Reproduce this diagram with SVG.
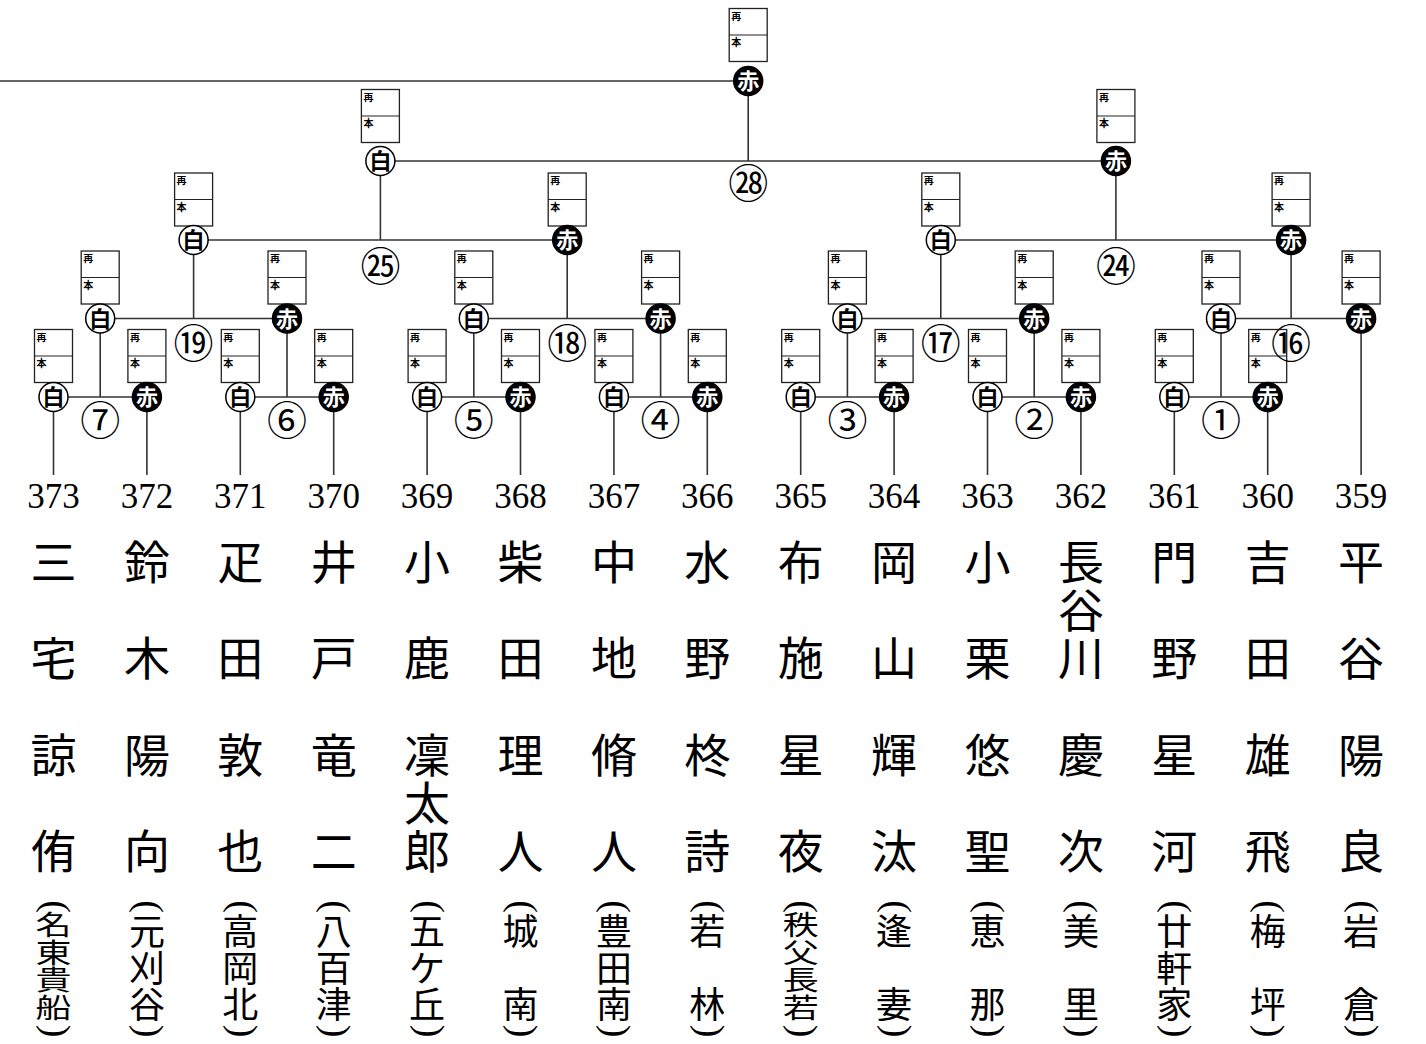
<svg xmlns="http://www.w3.org/2000/svg" width="1426" height="1044" viewBox="0 0 1426 1044">
<style>
.ln{stroke:#333;stroke-width:1.6;fill:none}
.bx{fill:#fff;stroke:#222;stroke-width:1.3}
.dv{stroke:#222;stroke-width:1.2}
.bt{font-family:"Noto Sans CJK JP",sans-serif;font-size:10px;font-weight:bold;fill:#000}
.cw{fill:#fff;stroke:#000;stroke-width:1.5}
.cb{fill:#000;stroke:#000;stroke-width:1.5}
.tw{font-family:"Noto Sans CJK JP",sans-serif;font-size:22px;font-weight:bold;text-anchor:middle;fill:#000}
.tb{font-family:"Noto Sans CJK JP",sans-serif;font-size:22px;font-weight:bold;text-anchor:middle;fill:#fff}
.mn{font-family:"Noto Sans CJK JP",sans-serif;font-size:40px;text-anchor:middle;fill:#000}
.num{font-family:"Liberation Serif","Noto Sans CJK JP",serif;font-size:35px;text-anchor:middle;fill:#000}
.nm{font-family:"Noto Sans CJK JP",sans-serif;font-size:46px;text-anchor:middle;fill:#000}
.sc{font-family:"Noto Sans CJK JP",sans-serif;font-size:36px;text-anchor:middle;fill:#000}
.pr{font-family:"Liberation Serif",serif;font-size:38px;text-anchor:middle;fill:#000}
</style>
<rect x="0" y="0" width="1426" height="1044" fill="#fff"/>
<g id="connectors" class="ln">
<line x1="0" y1="81" x2="748.2" y2="81"/>
<line x1="748.2" y1="81" x2="748.2" y2="161"/>
<line x1="380.4" y1="161" x2="1115.9" y2="161"/>
<line x1="380.4" y1="161" x2="380.4" y2="240"/>
<line x1="1115.9" y1="161" x2="1115.9" y2="240"/>
<line x1="193.6" y1="240" x2="567.2" y2="240"/>
<line x1="940.8" y1="240" x2="1291.1" y2="240"/>
<line x1="193.6" y1="240" x2="193.6" y2="318.5"/>
<line x1="567.2" y1="240" x2="567.2" y2="318.5"/>
<line x1="940.8" y1="240" x2="940.8" y2="318.5"/>
<line x1="1291.1" y1="240" x2="1291.1" y2="318.5"/>
<line x1="100.2" y1="318.5" x2="287" y2="318.5"/>
<line x1="473.8" y1="318.5" x2="660.6" y2="318.5"/>
<line x1="847.4" y1="318.5" x2="1034.2" y2="318.5"/>
<line x1="1221" y1="318.5" x2="1361.1" y2="318.5"/>
<line x1="100.2" y1="318.5" x2="100.2" y2="397"/>
<line x1="287" y1="318.5" x2="287" y2="397"/>
<line x1="473.8" y1="318.5" x2="473.8" y2="397"/>
<line x1="660.6" y1="318.5" x2="660.6" y2="397"/>
<line x1="847.4" y1="318.5" x2="847.4" y2="397"/>
<line x1="1034.2" y1="318.5" x2="1034.2" y2="397"/>
<line x1="1221" y1="318.5" x2="1221" y2="397"/>
<line x1="53.5" y1="397" x2="146.9" y2="397"/>
<line x1="240.3" y1="397" x2="333.7" y2="397"/>
<line x1="427.1" y1="397" x2="520.5" y2="397"/>
<line x1="613.9" y1="397" x2="707.3" y2="397"/>
<line x1="800.7" y1="397" x2="894.1" y2="397"/>
<line x1="987.5" y1="397" x2="1080.9" y2="397"/>
<line x1="1174.3" y1="397" x2="1267.7" y2="397"/>
<line x1="53.5" y1="397" x2="53.5" y2="475"/>
<line x1="146.9" y1="397" x2="146.9" y2="475"/>
<line x1="240.3" y1="397" x2="240.3" y2="475"/>
<line x1="333.7" y1="397" x2="333.7" y2="475"/>
<line x1="427.1" y1="397" x2="427.1" y2="475"/>
<line x1="520.5" y1="397" x2="520.5" y2="475"/>
<line x1="613.9" y1="397" x2="613.9" y2="475"/>
<line x1="707.3" y1="397" x2="707.3" y2="475"/>
<line x1="800.7" y1="397" x2="800.7" y2="475"/>
<line x1="894.1" y1="397" x2="894.1" y2="475"/>
<line x1="987.5" y1="397" x2="987.5" y2="475"/>
<line x1="1080.9" y1="397" x2="1080.9" y2="475"/>
<line x1="1174.3" y1="397" x2="1174.3" y2="475"/>
<line x1="1267.7" y1="397" x2="1267.7" y2="475"/>
<line x1="1361.1" y1="318.5" x2="1361.1" y2="475"/>
</g>

<g id="n373"><rect class="bx" x="34.5" y="329.5" width="38" height="53"/><line class="dv" x1="34.5" y1="356" x2="72.5" y2="356"/><text class="bt" x="36.5" y="340.5">再</text><text class="bt" x="36.5" y="367">本</text><circle class="cw" cx="53.5" cy="397" r="14.5"/><text class="tw" x="53.5" y="405">白</text></g>
<g id="n372"><rect class="bx" x="127.9" y="329.5" width="38" height="53"/><line class="dv" x1="127.9" y1="356" x2="165.9" y2="356"/><text class="bt" x="129.9" y="340.5">再</text><text class="bt" x="129.9" y="367">本</text><circle class="cb" cx="146.9" cy="397" r="14.5"/><text class="tb" x="146.9" y="405">赤</text></g>
<g id="n371"><rect class="bx" x="221.3" y="329.5" width="38" height="53"/><line class="dv" x1="221.3" y1="356" x2="259.3" y2="356"/><text class="bt" x="223.3" y="340.5">再</text><text class="bt" x="223.3" y="367">本</text><circle class="cw" cx="240.3" cy="397" r="14.5"/><text class="tw" x="240.3" y="405">白</text></g>
<g id="n370"><rect class="bx" x="314.7" y="329.5" width="38" height="53"/><line class="dv" x1="314.7" y1="356" x2="352.7" y2="356"/><text class="bt" x="316.7" y="340.5">再</text><text class="bt" x="316.7" y="367">本</text><circle class="cb" cx="333.7" cy="397" r="14.5"/><text class="tb" x="333.7" y="405">赤</text></g>
<g id="n369"><rect class="bx" x="408.1" y="329.5" width="38" height="53"/><line class="dv" x1="408.1" y1="356" x2="446.1" y2="356"/><text class="bt" x="410.1" y="340.5">再</text><text class="bt" x="410.1" y="367">本</text><circle class="cw" cx="427.1" cy="397" r="14.5"/><text class="tw" x="427.1" y="405">白</text></g>
<g id="n368"><rect class="bx" x="501.5" y="329.5" width="38" height="53"/><line class="dv" x1="501.5" y1="356" x2="539.5" y2="356"/><text class="bt" x="503.5" y="340.5">再</text><text class="bt" x="503.5" y="367">本</text><circle class="cb" cx="520.5" cy="397" r="14.5"/><text class="tb" x="520.5" y="405">赤</text></g>
<g id="n367"><rect class="bx" x="594.9" y="329.5" width="38" height="53"/><line class="dv" x1="594.9" y1="356" x2="632.9" y2="356"/><text class="bt" x="596.9" y="340.5">再</text><text class="bt" x="596.9" y="367">本</text><circle class="cw" cx="613.9" cy="397" r="14.5"/><text class="tw" x="613.9" y="405">白</text></g>
<g id="n366"><rect class="bx" x="688.3" y="329.5" width="38" height="53"/><line class="dv" x1="688.3" y1="356" x2="726.3" y2="356"/><text class="bt" x="690.3" y="340.5">再</text><text class="bt" x="690.3" y="367">本</text><circle class="cb" cx="707.3" cy="397" r="14.5"/><text class="tb" x="707.3" y="405">赤</text></g>
<g id="n365"><rect class="bx" x="781.7" y="329.5" width="38" height="53"/><line class="dv" x1="781.7" y1="356" x2="819.7" y2="356"/><text class="bt" x="783.7" y="340.5">再</text><text class="bt" x="783.7" y="367">本</text><circle class="cw" cx="800.7" cy="397" r="14.5"/><text class="tw" x="800.7" y="405">白</text></g>
<g id="n364"><rect class="bx" x="875.1" y="329.5" width="38" height="53"/><line class="dv" x1="875.1" y1="356" x2="913.1" y2="356"/><text class="bt" x="877.1" y="340.5">再</text><text class="bt" x="877.1" y="367">本</text><circle class="cb" cx="894.1" cy="397" r="14.5"/><text class="tb" x="894.1" y="405">赤</text></g>
<g id="n363"><rect class="bx" x="968.5" y="329.5" width="38" height="53"/><line class="dv" x1="968.5" y1="356" x2="1006.5" y2="356"/><text class="bt" x="970.5" y="340.5">再</text><text class="bt" x="970.5" y="367">本</text><circle class="cw" cx="987.5" cy="397" r="14.5"/><text class="tw" x="987.5" y="405">白</text></g>
<g id="n362"><rect class="bx" x="1061.9" y="329.5" width="38" height="53"/><line class="dv" x1="1061.9" y1="356" x2="1099.9" y2="356"/><text class="bt" x="1063.9" y="340.5">再</text><text class="bt" x="1063.9" y="367">本</text><circle class="cb" cx="1080.9" cy="397" r="14.5"/><text class="tb" x="1080.9" y="405">赤</text></g>
<g id="n361"><rect class="bx" x="1155.3" y="329.5" width="38" height="53"/><line class="dv" x1="1155.3" y1="356" x2="1193.3" y2="356"/><text class="bt" x="1157.3" y="340.5">再</text><text class="bt" x="1157.3" y="367">本</text><circle class="cw" cx="1174.3" cy="397" r="14.5"/><text class="tw" x="1174.3" y="405">白</text></g>
<g id="n360"><rect class="bx" x="1248.7" y="329.5" width="38" height="53"/><line class="dv" x1="1248.7" y1="356" x2="1286.7" y2="356"/><text class="bt" x="1250.7" y="340.5">再</text><text class="bt" x="1250.7" y="367">本</text><circle class="cb" cx="1267.7" cy="397" r="14.5"/><text class="tb" x="1267.7" y="405">赤</text></g>

<g id="w7"><rect class="bx" x="81.2" y="251" width="38" height="53"/><line class="dv" x1="81.2" y1="277.5" x2="119.2" y2="277.5"/><text class="bt" x="83.2" y="262">再</text><text class="bt" x="83.2" y="288.5">本</text><circle class="cw" cx="100.2" cy="318.5" r="14.5"/><text class="tw" x="100.2" y="326.5">白</text></g>
<g id="w6"><rect class="bx" x="268" y="251" width="38" height="53"/><line class="dv" x1="268" y1="277.5" x2="306" y2="277.5"/><text class="bt" x="270" y="262">再</text><text class="bt" x="270" y="288.5">本</text><circle class="cb" cx="287" cy="318.5" r="14.5"/><text class="tb" x="287" y="326.5">赤</text></g>
<g id="w5"><rect class="bx" x="454.8" y="251" width="38" height="53"/><line class="dv" x1="454.8" y1="277.5" x2="492.8" y2="277.5"/><text class="bt" x="456.8" y="262">再</text><text class="bt" x="456.8" y="288.5">本</text><circle class="cw" cx="473.8" cy="318.5" r="14.5"/><text class="tw" x="473.8" y="326.5">白</text></g>
<g id="w4"><rect class="bx" x="641.6" y="251" width="38" height="53"/><line class="dv" x1="641.6" y1="277.5" x2="679.6" y2="277.5"/><text class="bt" x="643.6" y="262">再</text><text class="bt" x="643.6" y="288.5">本</text><circle class="cb" cx="660.6" cy="318.5" r="14.5"/><text class="tb" x="660.6" y="326.5">赤</text></g>
<g id="w3"><rect class="bx" x="828.4" y="251" width="38" height="53"/><line class="dv" x1="828.4" y1="277.5" x2="866.4" y2="277.5"/><text class="bt" x="830.4" y="262">再</text><text class="bt" x="830.4" y="288.5">本</text><circle class="cw" cx="847.4" cy="318.5" r="14.5"/><text class="tw" x="847.4" y="326.5">白</text></g>
<g id="w2"><rect class="bx" x="1015.2" y="251" width="38" height="53"/><line class="dv" x1="1015.2" y1="277.5" x2="1053.2" y2="277.5"/><text class="bt" x="1017.2" y="262">再</text><text class="bt" x="1017.2" y="288.5">本</text><circle class="cb" cx="1034.2" cy="318.5" r="14.5"/><text class="tb" x="1034.2" y="326.5">赤</text></g>
<g id="w1"><rect class="bx" x="1202" y="251" width="38" height="53"/><line class="dv" x1="1202" y1="277.5" x2="1240" y2="277.5"/><text class="bt" x="1204" y="262">再</text><text class="bt" x="1204" y="288.5">本</text><circle class="cw" cx="1221" cy="318.5" r="14.5"/><text class="tw" x="1221" y="326.5">白</text></g>
<g id="n359"><rect class="bx" x="1342.1" y="251" width="38" height="53"/><line class="dv" x1="1342.1" y1="277.5" x2="1380.1" y2="277.5"/><text class="bt" x="1344.1" y="262">再</text><text class="bt" x="1344.1" y="288.5">本</text><circle class="cb" cx="1361.1" cy="318.5" r="14.5"/><text class="tb" x="1361.1" y="326.5">赤</text></g>

<g id="w19"><rect class="bx" x="174.6" y="173" width="38" height="53"/><line class="dv" x1="174.6" y1="199.5" x2="212.6" y2="199.5"/><text class="bt" x="176.6" y="184">再</text><text class="bt" x="176.6" y="210.5">本</text><circle class="cw" cx="193.6" cy="240" r="14.5"/><text class="tw" x="193.6" y="248">白</text></g>
<g id="w18"><rect class="bx" x="548.2" y="173" width="38" height="53"/><line class="dv" x1="548.2" y1="199.5" x2="586.2" y2="199.5"/><text class="bt" x="550.2" y="184">再</text><text class="bt" x="550.2" y="210.5">本</text><circle class="cb" cx="567.2" cy="240" r="14.5"/><text class="tb" x="567.2" y="248">赤</text></g>
<g id="w17"><rect class="bx" x="921.8" y="173" width="38" height="53"/><line class="dv" x1="921.8" y1="199.5" x2="959.8" y2="199.5"/><text class="bt" x="923.8" y="184">再</text><text class="bt" x="923.8" y="210.5">本</text><circle class="cw" cx="940.8" cy="240" r="14.5"/><text class="tw" x="940.8" y="248">白</text></g>
<g id="w16"><rect class="bx" x="1272.1" y="173" width="38" height="53"/><line class="dv" x1="1272.1" y1="199.5" x2="1310.1" y2="199.5"/><text class="bt" x="1274.1" y="184">再</text><text class="bt" x="1274.1" y="210.5">本</text><circle class="cb" cx="1291.1" cy="240" r="14.5"/><text class="tb" x="1291.1" y="248">赤</text></g>

<g id="w25"><rect class="bx" x="361.4" y="89.5" width="38" height="53"/><line class="dv" x1="361.4" y1="116" x2="399.4" y2="116"/><text class="bt" x="363.4" y="100.5">再</text><text class="bt" x="363.4" y="127">本</text><circle class="cw" cx="380.4" cy="161" r="14.5"/><text class="tw" x="380.4" y="169">白</text></g>
<g id="w24"><rect class="bx" x="1096.9" y="89.5" width="38" height="53"/><line class="dv" x1="1096.9" y1="116" x2="1134.9" y2="116"/><text class="bt" x="1098.9" y="100.5">再</text><text class="bt" x="1098.9" y="127">本</text><circle class="cb" cx="1115.9" cy="161" r="14.5"/><text class="tb" x="1115.9" y="169">赤</text></g>

<g id="w28"><rect class="bx" x="729.2" y="8.5" width="38" height="53"/><line class="dv" x1="729.2" y1="35" x2="767.2" y2="35"/><text class="bt" x="731.2" y="19.5">再</text><text class="bt" x="731.2" y="46">本</text><circle class="cb" cx="748.2" cy="81" r="14.5"/><text class="tb" x="748.2" y="89">赤</text></g>

<g id="match-numbers" class="mn">
<text x="100.2" y="434.8">⑦</text>
<text x="287" y="434.8">⑥</text>
<text x="473.8" y="434.8">⑤</text>
<text x="660.6" y="434.8">④</text>
<text x="847.4" y="434.8">③</text>
<text x="1034.2" y="434.8">②</text>
<text x="1221" y="434.8">①</text>
<text x="193.6" y="357.8">⑲</text>
<text x="567.2" y="357.8">⑱</text>
<text x="940.8" y="357.8">⑰</text>
<text x="1291.1" y="357.8">⑯</text>
<text x="380.4" y="280.8">㉕</text>
<text x="1115.9" y="280.8">㉔</text>
<text x="748.2" y="197.8">㉘</text>
</g>

<g id="entry-numbers" class="num">
<text x="53.5" y="508">373</text>
<text x="146.9" y="508">372</text>
<text x="240.3" y="508">371</text>
<text x="333.7" y="508">370</text>
<text x="427.1" y="508">369</text>
<text x="520.5" y="508">368</text>
<text x="613.9" y="508">367</text>
<text x="707.3" y="508">366</text>
<text x="800.7" y="508">365</text>
<text x="894.1" y="508">364</text>
<text x="987.5" y="508">363</text>
<text x="1080.9" y="508">362</text>
<text x="1174.3" y="508">361</text>
<text x="1267.7" y="508">360</text>
<text x="1361.1" y="508">359</text>
</g>

<g id="names" class="nm">
<text x="53.5" y="578.5">三</text><text x="53.5" y="675.1">宅</text><text x="53.5" y="771.7">諒</text><text x="53.5" y="868.3">侑</text>
<text x="146.9" y="578.5">鈴</text><text x="146.9" y="675.1">木</text><text x="146.9" y="771.7">陽</text><text x="146.9" y="868.3">向</text>
<text x="240.3" y="578.5">疋</text><text x="240.3" y="675.1">田</text><text x="240.3" y="771.7">敦</text><text x="240.3" y="868.3">也</text>
<text x="333.7" y="578.5">井</text><text x="333.7" y="675.1">戸</text><text x="333.7" y="771.7">竜</text><text x="333.7" y="868.3">二</text>
<text x="427.1" y="578.5">小</text><text x="427.1" y="675.1">鹿</text><text x="427.1" y="771.7">凜</text><text x="427.1" y="820">太</text><text x="427.1" y="868.3">郎</text>
<text x="520.5" y="578.5">柴</text><text x="520.5" y="675.1">田</text><text x="520.5" y="771.7">理</text><text x="520.5" y="868.3">人</text>
<text x="613.9" y="578.5">中</text><text x="613.9" y="675.1">地</text><text x="613.9" y="771.7">脩</text><text x="613.9" y="868.3">人</text>
<text x="707.3" y="578.5">水</text><text x="707.3" y="675.1">野</text><text x="707.3" y="771.7">柊</text><text x="707.3" y="868.3">詩</text>
<text x="800.7" y="578.5">布</text><text x="800.7" y="675.1">施</text><text x="800.7" y="771.7">星</text><text x="800.7" y="868.3">夜</text>
<text x="894.1" y="578.5">岡</text><text x="894.1" y="675.1">山</text><text x="894.1" y="771.7">輝</text><text x="894.1" y="868.3">汰</text>
<text x="987.5" y="578.5">小</text><text x="987.5" y="675.1">栗</text><text x="987.5" y="771.7">悠</text><text x="987.5" y="868.3">聖</text>
<text x="1080.9" y="578.5">長</text><text x="1080.9" y="626.8">谷</text><text x="1080.9" y="675.1">川</text><text x="1080.9" y="771.7">慶</text><text x="1080.9" y="868.3">次</text>
<text x="1174.3" y="578.5">門</text><text x="1174.3" y="675.1">野</text><text x="1174.3" y="771.7">星</text><text x="1174.3" y="868.3">河</text>
<text x="1267.7" y="578.5">吉</text><text x="1267.7" y="675.1">田</text><text x="1267.7" y="771.7">雄</text><text x="1267.7" y="868.3">飛</text>
<text x="1361.1" y="578.5">平</text><text x="1361.1" y="675.1">谷</text><text x="1361.1" y="771.7">陽</text><text x="1361.1" y="868.3">良</text>
</g>

<g id="schools" class="sc">
<text class="pr" transform="translate(44,906.5) rotate(90)">(</text><text transform="translate(53.5,925) scale(1,0.76)" y="13.3">名</text><text transform="translate(53.5,952.5) scale(1,0.76)" y="13.3">東</text><text transform="translate(53.5,980) scale(1,0.76)" y="13.3">貴</text><text transform="translate(53.5,1007.5) scale(1,0.76)" y="13.3">船</text><text class="pr" transform="translate(44,1031) rotate(90)">)</text>
<text class="pr" transform="translate(137.4,906.5) rotate(90)">(</text><text x="146.9" y="945.3">元</text><text x="146.9" y="981.8">刈</text><text x="146.9" y="1018.3">谷</text><text class="pr" transform="translate(137.4,1031) rotate(90)">)</text>
<text class="pr" transform="translate(230.8,906.5) rotate(90)">(</text><text x="240.3" y="945.3">高</text><text x="240.3" y="981.8">岡</text><text x="240.3" y="1018.3">北</text><text class="pr" transform="translate(230.8,1031) rotate(90)">)</text>
<text class="pr" transform="translate(324.2,906.5) rotate(90)">(</text><text x="333.7" y="945.3">八</text><text x="333.7" y="981.8">百</text><text x="333.7" y="1018.3">津</text><text class="pr" transform="translate(324.2,1031) rotate(90)">)</text>
<text class="pr" transform="translate(417.6,906.5) rotate(90)">(</text><text x="427.1" y="945.3">五</text><text x="427.1" y="981.8">ケ</text><text x="427.1" y="1018.3">丘</text><text class="pr" transform="translate(417.6,1031) rotate(90)">)</text>
<text class="pr" transform="translate(511,906.5) rotate(90)">(</text><text x="520.5" y="945.3">城</text><text x="520.5" y="1018.3">南</text><text class="pr" transform="translate(511,1031) rotate(90)">)</text>
<text class="pr" transform="translate(604.4,906.5) rotate(90)">(</text><text x="613.9" y="945.3">豊</text><text x="613.9" y="981.8">田</text><text x="613.9" y="1018.3">南</text><text class="pr" transform="translate(604.4,1031) rotate(90)">)</text>
<text class="pr" transform="translate(697.8,906.5) rotate(90)">(</text><text x="707.3" y="945.3">若</text><text x="707.3" y="1018.3">林</text><text class="pr" transform="translate(697.8,1031) rotate(90)">)</text>
<text class="pr" transform="translate(791.2,906.5) rotate(90)">(</text><text transform="translate(800.7,925) scale(1,0.76)" y="13.3">秩</text><text transform="translate(800.7,952.5) scale(1,0.76)" y="13.3">父</text><text transform="translate(800.7,980) scale(1,0.76)" y="13.3">長</text><text transform="translate(800.7,1007.5) scale(1,0.76)" y="13.3">若</text><text class="pr" transform="translate(791.2,1031) rotate(90)">)</text>
<text class="pr" transform="translate(884.6,906.5) rotate(90)">(</text><text x="894.1" y="945.3">逢</text><text x="894.1" y="1018.3">妻</text><text class="pr" transform="translate(884.6,1031) rotate(90)">)</text>
<text class="pr" transform="translate(978,906.5) rotate(90)">(</text><text x="987.5" y="945.3">恵</text><text x="987.5" y="1018.3">那</text><text class="pr" transform="translate(978,1031) rotate(90)">)</text>
<text class="pr" transform="translate(1071.4,906.5) rotate(90)">(</text><text x="1080.9" y="945.3">美</text><text x="1080.9" y="1018.3">里</text><text class="pr" transform="translate(1071.4,1031) rotate(90)">)</text>
<text class="pr" transform="translate(1164.8,906.5) rotate(90)">(</text><text x="1174.3" y="945.3">廿</text><text x="1174.3" y="981.8">軒</text><text x="1174.3" y="1018.3">家</text><text class="pr" transform="translate(1164.8,1031) rotate(90)">)</text>
<text class="pr" transform="translate(1258.2,906.5) rotate(90)">(</text><text x="1267.7" y="945.3">梅</text><text x="1267.7" y="1018.3">坪</text><text class="pr" transform="translate(1258.2,1031) rotate(90)">)</text>
<text class="pr" transform="translate(1351.6,906.5) rotate(90)">(</text><text x="1361.1" y="945.3">岩</text><text x="1361.1" y="1018.3">倉</text><text class="pr" transform="translate(1351.6,1031) rotate(90)">)</text>
</g>
</svg>
